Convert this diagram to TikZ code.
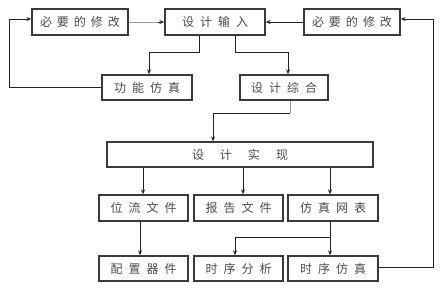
\documentclass[tikz,border=0pt]{standalone}
\usepackage{fontspec}
\setmainfont{Noto Sans CJK SC}
\usetikzlibrary{arrows.meta}
\definecolor{boxc}{HTML}{3A3A3A}
\definecolor{txtc}{HTML}{4A4A4A}
\definecolor{linec}{HTML}{222222}
\definecolor{grayc}{HTML}{9A9A9A}
\newcommand{\gq}{\hspace{6pt}}
\newcommand{\gw}{\hspace{16pt}}
\begin{document}
\begin{tikzpicture}[x=1pt,y=-1pt,
  blk/.style={draw=boxc,line width=1.3pt,minimum height=26pt,inner sep=0pt,
    text=txtc,font=\fontsize{12pt}{14pt}\selectfont},
  con/.style={draw=linec,line width=0.9pt,-{Stealth[length=5pt,width=4pt]}},
  gline/.style={draw=grayc,line width=0.9pt}]
\useasboundingbox (0,0) rectangle (448,289);
\node[blk,minimum width=96pt] (mL) at (80,22) {必\hspace{5pt}要\hspace{5pt}的\hspace{5pt}修\hspace{5pt}改};
\node[blk,minimum width=100pt] (in) at (215,22) {设\gq 计\gq 输\gq 入};
\node[blk,minimum width=96pt] (mR) at (352,22) {必\hspace{5pt}要\hspace{5pt}的\hspace{5pt}修\hspace{5pt}改};
\node[blk,minimum width=90pt,minimum height=25pt] (fs) at (147,87.5) {功\gq 能\gq 仿\gq 真};
\node[blk,minimum width=88pt,minimum height=25pt] (zh) at (284,87.5) {设\gq 计\gq 综\gq 合};
\node[blk,minimum width=266pt,minimum height=25pt] (sx) at (240,154.5) {设\gw 计\gw 实\gw 现};
\node[blk,minimum width=89pt] (b1) at (143.5,208) {位\gq 流\gq 文\gq 件};
\node[blk,minimum width=89pt] (b2) at (238.5,208) {报\gq 告\gq 文\gq 件};
\node[blk,minimum width=90pt] (b3) at (333,208) {仿\gq 真\gq 网\gq 表};
\node[blk,minimum width=89pt,minimum height=25pt] (c1) at (143.5,268.5) {配\gq 置\gq 器\gq 件};
\node[blk,minimum width=89pt,minimum height=25pt] (c2) at (238.5,268.5) {时\gq 序\gq 分\gq 析};
\node[blk,minimum width=90pt,minimum height=25pt] (c3) at (333,268.5) {时\gq 序\gq 仿\gq 真};
% top row arrows
\coordinate (lt) at ([xshift=-6pt]in.west);
\draw[gline] (mL.east) -- (lt);
\draw[con] (lt) -- (in.west);
\draw[con] (mR.west) -- (in.east);
% from input down
\draw[con] (in.south -| 199,0) -- (199,52) -- (149,52) -- (fs.north -| 149,0);
\draw[con] (in.south -| 235,0) -- (235,52) -- (288,52) -- (zh.north -| 288,0);
% feedback left
\draw[con] (fs.west) -- (9,87.5) -- (9,19) -- (mL.west |- 0,19);
% synth to implementation
\coordinate (zb) at (290,113);
\draw[gline] (zh.south -| 290,0) -- (zb);
\draw[con] (zb) -- (213,113) -- (sx.north -| 213,0);
% implementation to files
\draw[con] (sx.south -| 143,0) -- (b1.north -| 143,0);
\draw[con] (sx.south -| 243,0) -- (b2.north -| 243,0);
\draw[con] (sx.south -| 330,0) -- (b3.north -| 330,0);
% files to row 4
\draw[con] (b1.south -| 140,0) -- (c1.north -| 140,0);
\draw[con] (b3.south -| 330,0) -- (c3.north -| 330,0);
\draw[con] (330,237) -- (235,237) -- (c2.north -| 235,0);
% feedback right
\draw[con] (c3.east |- 0,267) -- (433,267) -- (433,19) -- (mR.east |- 0,19);
\end{tikzpicture}
\end{document}
